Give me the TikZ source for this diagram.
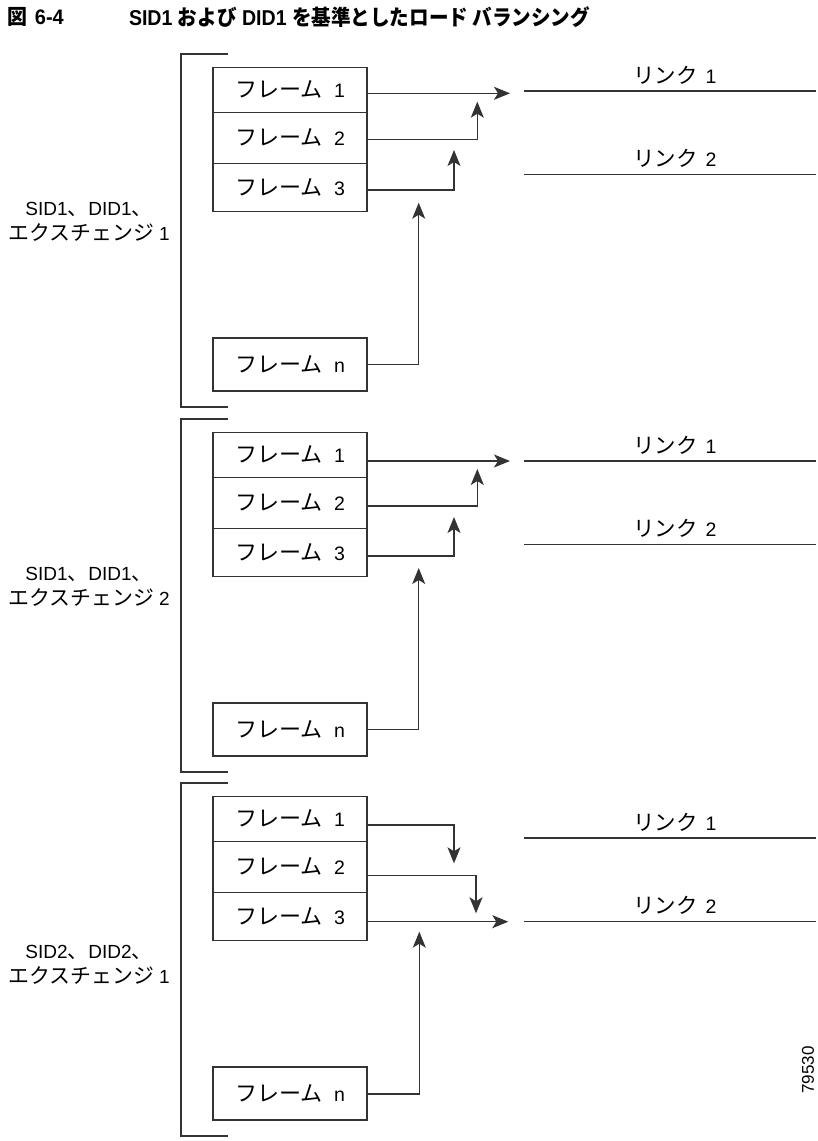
\documentclass[tikz,border=0pt]{standalone}
\usepackage{fontspec}
\usepackage{graphicx}
\setmainfont{Liberation Sans}
\newfontfamily\jp[Scale=1.1]{Noto Sans CJK JP}
\newfontfamily\jpt{Noto Sans CJK JP}
\usetikzlibrary{arrows.meta,calc}
\begin{document}
\begin{tikzpicture}[x=1pt,y=-1pt,
  every node/.style={inner sep=0pt,outer sep=0pt},
  ln/.style={line width=1.2pt,draw=black!80},
  framebox/.style={ln,minimum width=154pt,font=\fontsize{19.5}{22}\selectfont},
  arr/.style={ln,-{Stealth[length=16pt,width=13pt,inset=4pt]}},
  lbl/.style={font=\fontsize{19}{25}\selectfont,align=center},
  linktxt/.style={font=\fontsize{19.5}{22}\selectfont}]
\useasboundingbox (0,0) rectangle (817,1141);
\newcommand{\fr}[1]{{\jp\fontsize{20}{22}\selectfont フレーム}\hspace{0.6em}#1}
\newcommand{\lk}[1]{{\jp リンク}\hspace{0.4em}#1}
% title
\node[anchor=west,font=\fontsize{21}{24}\selectfont\bfseries] (fig) at (7,17) {\scalebox{0.95}[1]{{\jpt 図}\hspace{0.4em}6-4}};
\node[anchor=west,font=\fontsize{21.5}{24}\selectfont\bfseries] (title) at (129,17) {\scalebox{0.91}[1]{SID1 {\jpt および} DID1 {\jpt を基準としたロード バランシング}}};
% ---------- three sections ----------
\foreach \o/\k/\s/\lab/\ly in {0/0/a/{SID1{\jp 、}DID1{\jp 、}\\{\jp エクスチェンジ} 1}/222, 365/370/b/{SID1{\jp 、}DID1{\jp 、}\\{\jp エクスチェンジ} 2}/222, 729/747/c/{SID2{\jp 、}DID2{\jp 、}\\{\jp エクスチェンジ} 1}/236}{
  \begin{scope}[yshift=-\o pt]
  \coordinate (bt\s) at (228,54);
  \coordinate (bb\s) at (228,407);
  \draw[ln] (bt\s) -- (181,54) -- (181,407) -- (bb\s);
  \node[lbl] (lab\s) at (89,\ly) {\lab};
  \node[framebox,minimum height=45pt] (f1\s) at (290,89.8) {\fr{1}};
  \node[framebox,minimum height=51pt] (f2\s) at (290,137.8) {\fr{2}};
  \node[framebox,minimum height=48.4pt] (f3\s) at (290,187.5) {\fr{3}};
  \node[framebox,minimum height=53pt] (fn\s) at (290,364.5) {\fr{n}};
  \end{scope}
  \begin{scope}[yshift=-\k pt]
  \coordinate (l1s\s) at (524,91);
  \coordinate (l1e\s) at (816,91);
  \coordinate (l2s\s) at (524,174.3);
  \coordinate (l2e\s) at (816,174.3);
  \draw[ln] (l1s\s) -- (l1e\s);
  \draw[ln] (l2s\s) -- (l2e\s);
  \node[linktxt] (k1\s) at (675,75) {\lk{1}};
  \node[linktxt] (k2\s) at (675,158) {\lk{2}};
  \end{scope}
}
% section 1 arrows
\coordinate (t1a) at (510,93.3);
\coordinate (t2a) at (477.3,101.7);
\coordinate (t3a) at (454,150);
\coordinate (tna) at (418.7,202.7);
\draw[arr] (f1a.east |- t1a) -- (t1a);
\draw[arr] (f2a.east |- 0,139.3) -| (t2a);
\draw[arr] (f3a.east |- 0,190) -| (t3a);
\draw[arr] (fna.east |- 0,364.5) -| (tna);
% section 2 arrows
\coordinate (t1b) at (510,461);
\coordinate (t2b) at (477.3,469);
\coordinate (t3b) at (454,517);
\coordinate (tnb) at (418.7,568);
\draw[arr] (f1b.east |- t1b) -- (t1b);
\draw[arr] (f2b.east |- 0,506) -| (t2b);
\draw[arr] (f3b.east |- 0,556) -| (t3b);
\draw[arr] (fnb.east |- 0,729.5) -| (tnb);
% section 3 arrows
\coordinate (t1c) at (454,863.3);
\coordinate (t2c) at (476,913.3);
\coordinate (t3c) at (508.3,921.7);
\coordinate (tnc) at (419.3,931.7);
\draw[arr] (f1c.east |- 0,825) -| (t1c);
\draw[arr] (f2c.east |- 0,875.3) -| (t2c);
\draw[arr] (f3c.east |- t3c) -- (t3c);
\draw[arr] (fnc.east |- 0,1094) -| (tnc);
% figure number
\node[rotate=90,font=\fontsize{17}{20}\selectfont] (num) at (808,1070) {79530};
\end{tikzpicture}
\end{document}
